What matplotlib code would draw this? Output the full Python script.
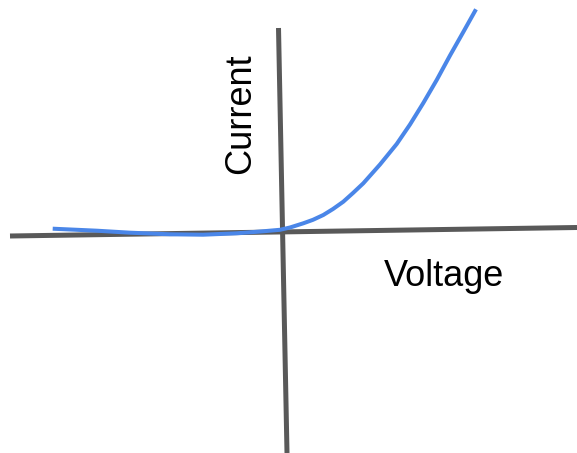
import matplotlib
matplotlib.use('Agg')
import numpy as np
import matplotlib.pyplot as plt

# everything is in picture pixels (origin top left)
# the two hand drawn axes
h_axis_x = [10, 577]
h_axis_y = [236, 227.5]
v_axis_x = [278.5, 287]
v_axis_y = [28, 453]

# the I-V curve
curve_x = [52.7, 96.7, 130, 170, 203, 236.7, 263, 280, 290, 303.3, 313, 323.3, 333, 343.3,
           353, 363.3, 380, 396.7, 410, 423.3, 436.7, 450, 463.3, 476]
curve_y = [228.7, 230.7, 232.7, 234.3, 234.7, 233.3, 231.3, 229.8, 227.5, 223.3, 219.8, 215, 209, 201.7,
           193, 183.3, 164.5, 144, 124.5, 103, 80, 55.5, 32, 9.3]

axis_color = '#595959'
curve_color = '#4a86e8'

plt.rcParams['font.family'] = ['Liberation Sans', 'DejaVu Sans']

fig = plt.figure(figsize=(5.77, 4.53), dpi=100)
ax = fig.add_axes([0, 0, 1, 1])
ax.set_xlim(0, 577)
ax.set_ylim(453, 0)
ax.axis('off')

ax.plot(h_axis_x, h_axis_y, color=axis_color, lw=3.6, solid_capstyle='butt')
ax.plot(v_axis_x, v_axis_y, color=axis_color, lw=3.6, solid_capstyle='butt')
ax.plot(curve_x, curve_y, color=curve_color, lw=2.9, solid_capstyle='butt', solid_joinstyle='round')

ax.text(241, 113.5, 'Current', rotation=90, fontsize=26, ha='center', va='center')
ax.text(443.5, 277, 'Voltage', fontsize=26, ha='center', va='center')

plt.savefig('out.png', dpi=100)
